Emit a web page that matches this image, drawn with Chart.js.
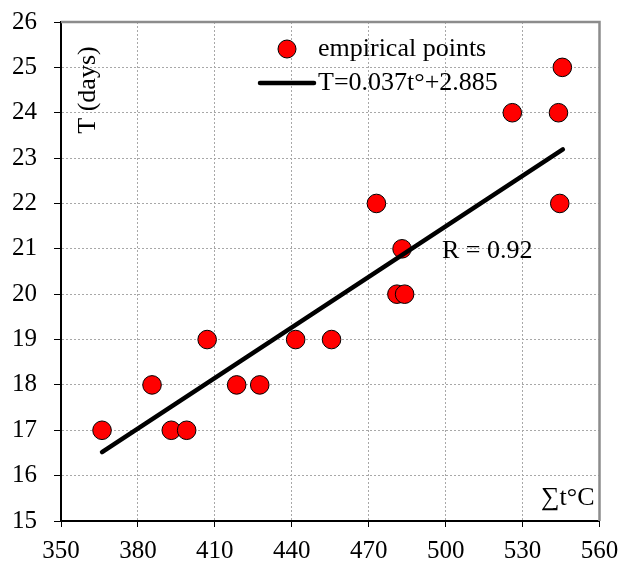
<!DOCTYPE html>
<html>
<head>
<meta charset="utf-8">
<script src="https://cdn.jsdelivr.net/npm/chart.js@4.4.0/dist/chart.umd.min.js"></script>
<style>
  body { margin: 0; background: #fff; }
  #wrap { width: 621px; height: 563px; }
</style>
</head>
<body>
<div id="wrap"><canvas id="tChart"></canvas></div>
<script>
// empirical points: sum of temperatures vs days
const sumT = [366, 385.5, 393, 399, 407, 418.5, 427.5, 441.5, 455.5, 473, 481, 483, 484, 526, 544, 544.5, 545.5]
const days = [17, 18, 17, 17, 19, 18, 18, 19, 19, 22, 20, 21, 20, 24, 24, 22, 25]

// regression line ends
const trendX = [366, 545.7]
const trendY = [16.52, 23.19]

const xTicks = [350, 380, 410, 440, 470, 500, 530, 560]
const yTicks = [15, 16, 17, 18, 19, 20, 21, 22, 23, 24, 25, 26]

const serif = "'Liberation Serif', 'Times New Roman', serif"

const pointData = sumT.map((x, i) => ({ x: x, y: days[i] }))
const lineData = trendX.map((x, i) => ({ x: x, y: trendY[i] }))

// keep the plot box where the picture has it, labels may hang over
const noPad = s => {
  s.paddingTop = 0
  s.paddingBottom = 0
  s.paddingLeft = 0
  s.paddingRight = 0
}

// frame (gray top/right) and the text bits that sit inside the plot
const extras = {
  id: 'extras',
  beforeDatasetsDraw(chart) {
    const { ctx, chartArea: a } = chart
    ctx.save()
    ctx.strokeStyle = '#8c8c8c'
    ctx.lineWidth = 2.5
    ctx.beginPath()
    ctx.moveTo(a.left, a.top)
    ctx.lineTo(a.right, a.top)
    ctx.lineTo(a.right, a.bottom)
    ctx.stroke()
    ctx.restore()
  },
  afterDraw(chart) {
    const { ctx } = chart
    const pts = chart.data.datasets[1]
    const ln = chart.data.datasets[0]
    ctx.save()
    ctx.font = '26px ' + serif
    ctx.fillStyle = '#000'
    ctx.textBaseline = 'middle'

    // legend
    ctx.beginPath()
    ctx.arc(287, 49, 9, 0, Math.PI * 2)
    ctx.fillStyle = pts.backgroundColor
    ctx.fill()
    ctx.lineWidth = 1
    ctx.strokeStyle = '#000'
    ctx.stroke()
    ctx.fillStyle = '#000'
    ctx.fillText(pts.label, 318, 49)

    ctx.beginPath()
    ctx.moveTo(260, 83)
    ctx.lineTo(314, 83)
    ctx.lineWidth = 4.5
    ctx.lineCap = 'round'
    ctx.strokeStyle = ln.borderColor
    ctx.stroke()
    ctx.fillText(ln.label, 318, 83)

    ctx.fillText('R = 0.92', 442, 251)
    ctx.fillText('\u2211t\u00b0C', 541, 498)

    ctx.translate(88, 90)
    ctx.rotate(-Math.PI / 2)
    ctx.textAlign = 'center'
    ctx.fillText('T (days)', 0, 0)
    ctx.restore()
  }
}

new Chart(document.getElementById('tChart'), {
  type: 'scatter',
  data: {
    datasets: [
      {
        label: 'T=0.037t\u00b0+2.885',
        data: lineData,
        showLine: true,
        borderColor: '#000',
        borderWidth: 4.5,
        borderCapStyle: 'round',
        pointRadius: 0,
        order: 0
      },
      {
        label: 'empirical points',
        data: pointData,
        backgroundColor: '#ff0000',
        borderColor: '#000',
        borderWidth: 1,
        pointRadius: 9.3,
        order: 1
      }
    ]
  },
  options: {
    responsive: true,
    maintainAspectRatio: false,
    animation: false,
    layout: { padding: { top: 22, right: 21.5, left: 0, bottom: 0 } },
    plugins: { legend: { display: false }, tooltip: { enabled: false } },
    scales: {
      x: {
        type: 'linear',
        min: xTicks[0],
        max: xTicks[xTicks.length - 1],
        afterBuildTicks: s => { s.ticks = xTicks.map(v => ({ value: v })) },
        afterFit: s => { s.height = 42; noPad(s) },
        ticks: { color: '#000', font: { family: serif, size: 25 }, padding: 9, maxRotation: 0 },
        grid: { color: '#a8a8a8', lineWidth: 1, tickColor: '#000', tickLength: 6, tickBorderDash: [], tickWidth: 1 },
        border: { color: '#000', width: 2, dash: [2, 2] }
      },
      y: {
        type: 'linear',
        min: yTicks[0],
        max: yTicks[yTicks.length - 1],
        afterBuildTicks: s => { s.ticks = yTicks.map(v => ({ value: v })) },
        afterFit: s => { s.width = 61; noPad(s) },
        ticks: { color: '#000', font: { family: serif, size: 25 }, padding: 17 },
        grid: { color: '#a8a8a8', lineWidth: 1, tickColor: '#000', tickLength: 7, tickBorderDash: [], tickWidth: 1 },
        border: { color: '#000', width: 2, dash: [2, 2] }
      }
    }
  },
  plugins: [extras]
})
</script>
</body>
</html>
